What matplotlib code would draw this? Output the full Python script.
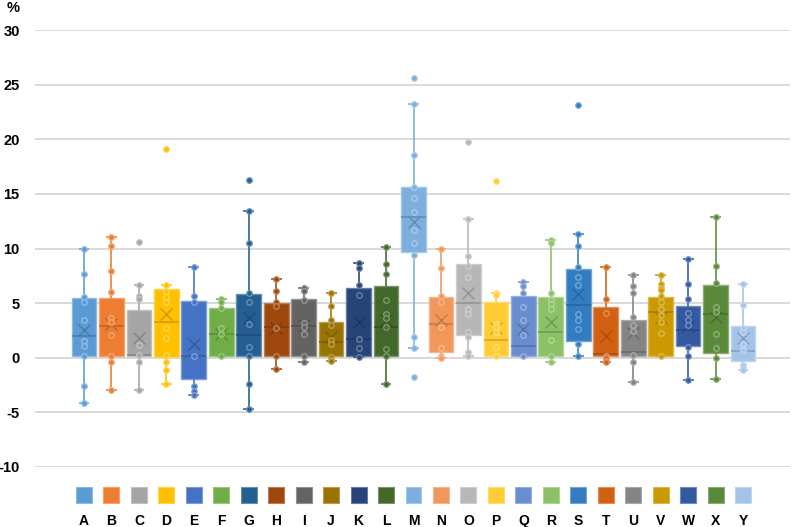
import matplotlib
matplotlib.use("Agg")
import matplotlib.pyplot as plt
import matplotlib.colors as mcolors

# categorías y estadísticos (%)
categorias = list("ABCDEFGHIJKLMNOPQRSTUVWXY")

bigote_inf = [-4.1, -2.93, -2.93, -2.44, -3.45, 0.18, -4.66, -1.0, -0.37, -0.27, 0.09, -2.38, 0.92,
              -0.06, 0.18, 0.18, 0.18, -0.37, 0.18, -0.37, -2.2, 0.18, -2.04, -1.95, -1.13]
cuartil1 = [0.18, 0.2, 0.2, 0.03, -1.95, 0.18, 0.18, 0.18, 0.18, 0.18, 0.18, 0.18, 9.64,
            0.55, 2.08, 0.18, 0.18, 0.18, 1.52, 0.18, 0.18, 0.18, 1.1, 0.4, -0.27]
mediana = [2.0, 2.9, 0.25, 3.3, 0.18, 2.13, 2.07, 2.84, 2.93, 1.4, 1.74, 2.84, 12.9,
           3.08, 5.03, 1.62, 1.07, 2.38, 4.82, 0.3, 0.49, 4.15, 2.5, 3.96, 0.64]
cuartil3 = [5.5, 5.43, 4.33, 6.3, 5.18, 4.57, 5.82, 5.03, 5.34, 3.3, 6.34, 6.55, 15.65,
            5.52, 8.54, 5.12, 5.67, 5.58, 8.14, 4.67, 3.5, 5.58, 4.76, 6.65, 2.93]
bigote_sup = [10.0, 11.07, 6.7, 6.7, 8.35, 5.37, 13.4, 7.2, 6.43, 5.95, 8.69, 10.18, 23.2,
              10.0, 12.72, 5.95, 6.92, 10.76, 11.37, 8.33, 7.56, 7.56, 9.02, 12.87, 6.74]
media = [2.5, 3.1, 1.77, 3.96, 1.22, 2.2, 3.6, 2.68, 3.0, 1.92, 3.23, 3.45, 12.45,
         3.45, 5.93, 2.68, 2.6, 3.3, 5.82, 2.03, 2.23, 3.6, 2.93, 3.75, 1.77]

puntos = [
    [10.0, 7.7, 5.6, 5.1, 3.5, 1.5, 1.1, 0.2, -2.6, -4.1],
    [11.07, 10.2, 7.95, 6.0, 3.6, 3.3, 2.1, 0.2, -0.43, -2.93],
    [10.55, 6.7, 5.67, 5.37, 1.16, 0.24, -0.37, -2.93],
    [19.07, 6.7, 6.1, 5.6, 5.06, 2.68, 1.83, 0.24, -0.37, -1.1, -2.44],
    [8.35, 5.64, 5.1, 0.18, -2.62, -3.0, -3.45],
    [5.37, 5.12, 4.57, 2.74, 2.2, 0.18],
    [16.26, 13.4, 10.5, 5.95, 5.06, 3.05, 1.0, 0.18, -2.44, -4.66],
    [7.2, 6.13, 5.06, 4.73, 2.7, 0.18, -1.0],
    [6.43, 6.34, 6.1, 5.27, 3.14, 2.8, 2.13, 0.18, -0.37],
    [5.95, 4.73, 3.45, 3.0, 1.6, 1.3, 0.09, -0.18, -0.27],
    [8.69, 8.17, 6.7, 5.76, 1.74, 0.85, 0.09],
    [10.18, 8.54, 7.68, 5.3, 3.96, 3.66, 2.84, 0.79, 0.18, -2.38],
    [25.6, 23.2, 18.55, 15.65, 14.6, 13.3, 11.7, 10.5, 9.4, 1.87, 0.92, -1.74],
    [10.0, 8.17, 5.64, 5.06, 2.84, 0.85, 0.15, -0.06],
    [19.75, 12.72, 9.3, 8.4, 7.4, 4.5, 4.05, 2.4, 1.9, 0.53, 0.18],
    [16.2, 5.95, 5.73, 3.1, 2.8, 2.4, 1.0, 0.18],
    [6.92, 6.6, 5.95, 4.66, 3.45, 2.1, 0.18],
    [10.76, 10.5, 5.95, 5.27, 4.9, 4.5, 1.62, 0.18, -0.37],
    [23.1, 11.37, 10.24, 8.32, 7.4, 6.7, 3.96, 3.45, 2.6, 1.22, 0.18],
    [8.33, 5.34, 4.1, 0.18, -0.06, -0.3, -0.37],
    [7.56, 6.59, 5.95, 3.69, 2.99, 2.44, 0.24, -0.37, -2.2],
    [7.56, 6.74, 6.43, 6.19, 5.64, 5.06, 4.5, 3.9, 3.3, 2.3, 0.18],
    [9.02, 6.74, 5.34, 4.1, 3.5, 3.0, 1.0, 0.18, -2.04],
    [12.87, 8.39, 6.86, 4.66, 4.2, 2.16, 0.85, -0.06, -1.95],
    [6.74, 4.79, 2.68, 2.38, 1.3, 0.7, -0.67, -0.91, -1.13],
]

colores = ["#5B9BD5", "#ED7D31", "#A5A5A5", "#FFC000", "#4472C4", "#70AD47",
           "#255E91", "#9E480E", "#636363", "#997300", "#264478", "#43682B",
           "#7CAFDD", "#F1975A", "#B7B7B7", "#FFCD33", "#698ED0", "#8CC168",
           "#327DC2", "#D26012", "#848484", "#CC9A00", "#335AA1", "#5A8A39",
           "#A3C4E8"]


def aclarar(c, f):
    r, g, b = mcolors.to_rgb(c)
    return (r + (1 - r) * f, g + (1 - g) * f, b + (1 - b) * f)


def oscurecer(c, f):
    r, g, b = mcolors.to_rgb(c)
    return (r * (1 - f), g * (1 - f), b * (1 - f))


plt.rcParams["font.family"] = ["Liberation Sans", "DejaVu Sans"]

fig = plt.figure(figsize=(7.94, 5.27), dpi=100)
ax = fig.add_axes([35 / 794, 60 / 527, 755 / 794, 437 / 527])

posiciones = list(range(len(categorias)))

for i, cat in enumerate(categorias):
    col = colores[i]
    stats = [{
        "whislo": bigote_inf[i], "q1": cuartil1[i], "med": mediana[i],
        "q3": cuartil3[i], "whishi": bigote_sup[i], "mean": media[i],
        "fliers": [], "label": cat,
    }]
    ax.bxp(stats, positions=[i], widths=0.9, patch_artist=True,
           showmeans=True, showfliers=False, capwidths=0.32,
           boxprops=dict(facecolor=col, edgecolor=aclarar(col, 0.3), linewidth=1.0),
           medianprops=dict(color=oscurecer(col, 0.2), linewidth=1.1),
           whiskerprops=dict(color=aclarar(col, 0.1), linewidth=1.3),
           capprops=dict(color=aclarar(col, 0.1), linewidth=1.3),
           meanprops=dict(marker="x", markersize=8, markeredgecolor=oscurecer(col, 0.2),
                          markeredgewidth=1.0),
           zorder=2)
    ax.scatter([i] * len(puntos[i]), puntos[i], s=16, color=col,
               edgecolors=[aclarar(col, 0.35)], linewidths=0.9, zorder=3)

ax.set_xlim(-1.784, 25.71)
ax.set_ylim(-10, 30)
ax.set_yticks(range(-10, 31, 5))
ax.set_yticklabels([str(v) for v in range(-10, 31, 5)], fontsize=10.5, fontweight="bold")
ax.yaxis.grid(True, color="#D9D9D9", linewidth=1.4, zorder=0)
ax.set_axisbelow(True)
ax.tick_params(axis="y", length=0, pad=11)

ax.set_xticks(posiciones)
ax.set_xticklabels(categorias, fontsize=10, fontweight="bold")
ax.tick_params(axis="x", length=0, pad=34)

for s in ax.spines.values():
    s.set_visible(False)

# cuadritos de la leyenda bajo el eje
ax.scatter(posiciones, [-0.064] * len(posiciones), s=132, marker="s",
           color=colores, edgecolors=[aclarar(c, 0.3) for c in colores], linewidths=0.8,
           transform=ax.get_xaxis_transform(), clip_on=False, zorder=3)

fig.text(13 / 794, 1 - 8.5 / 527, "%", fontsize=10.5, fontweight="bold", ha="center", va="center")

fig.savefig("out.png", dpi=100)
